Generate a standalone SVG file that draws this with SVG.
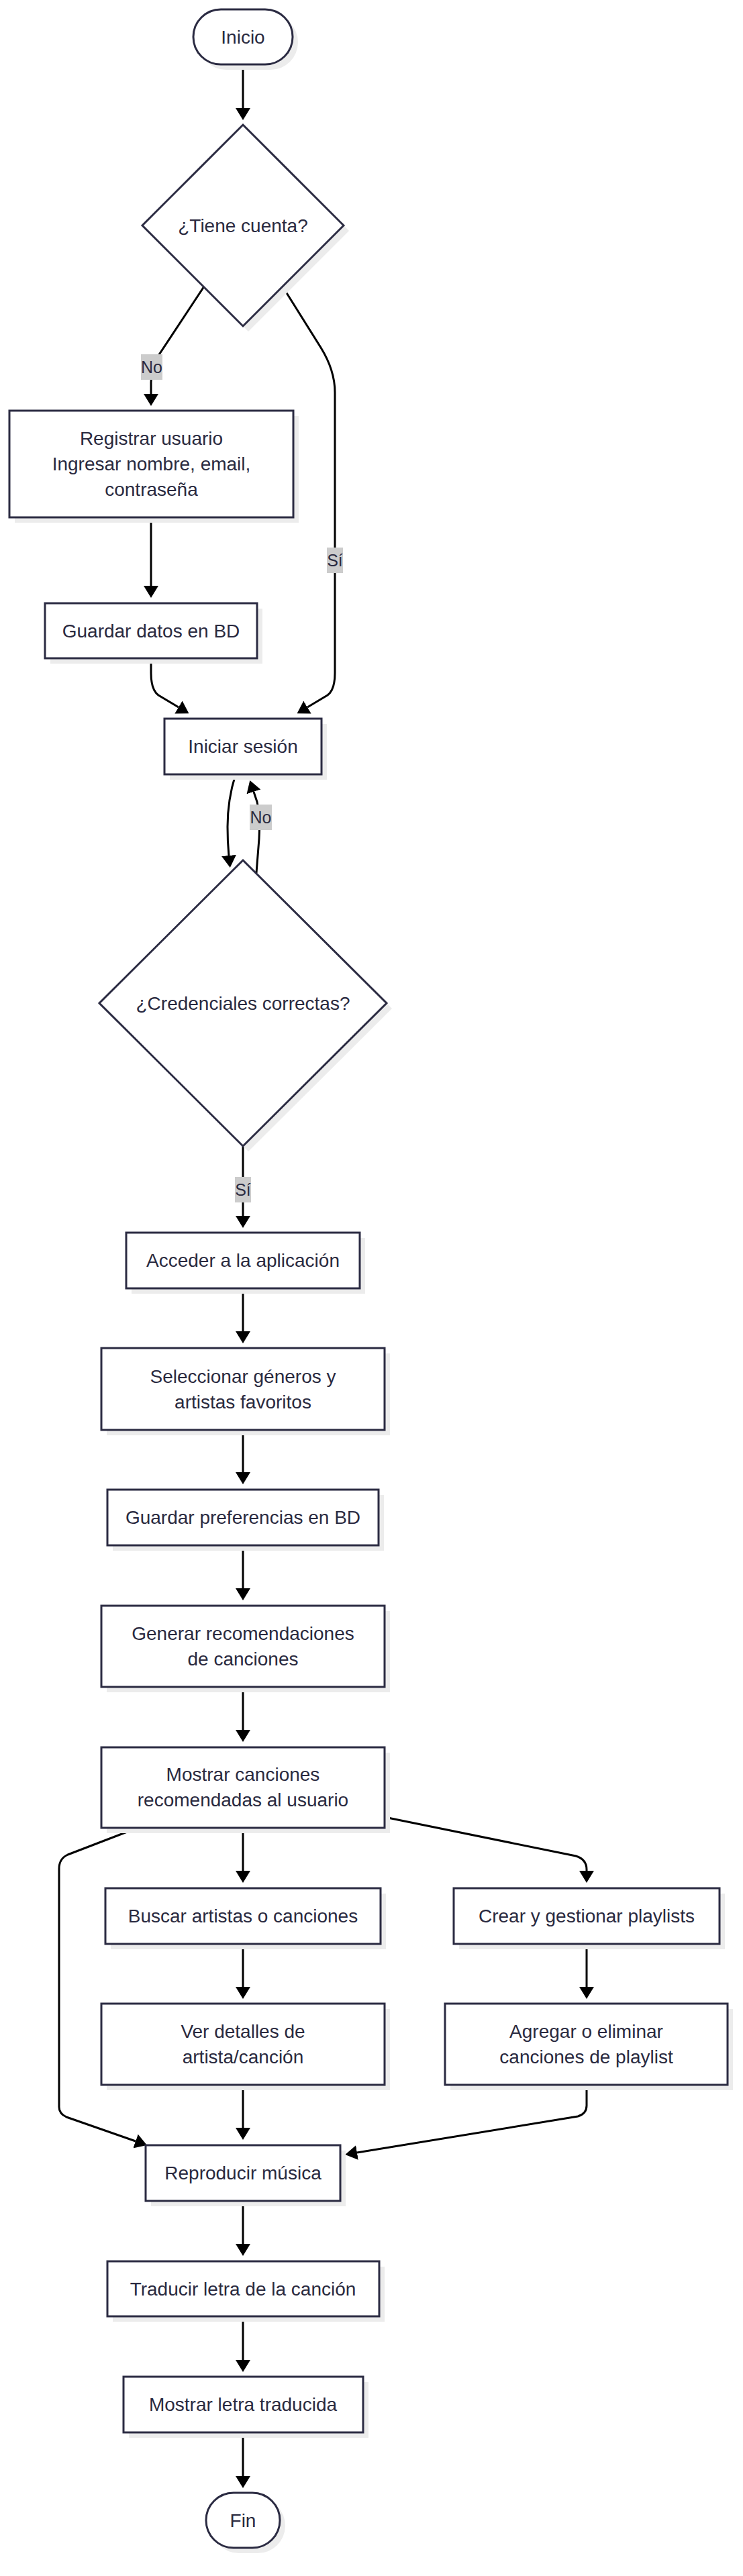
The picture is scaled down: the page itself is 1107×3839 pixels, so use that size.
<svg xmlns="http://www.w3.org/2000/svg" width="1107" height="3839" viewBox="0 0 1107 3839">
<style>
.n{fill:#ffffff;stroke:#2b2b42;stroke-width:3}
.sh{fill:#ececec;stroke:none}
.e{fill:none;stroke:#000000;stroke-width:3}
.t{font-family:"Liberation Sans",Arial,sans-serif;font-size:28px;fill:#2a2a40;text-anchor:middle;dominant-baseline:central}
.lb{fill:#cccccc;stroke:none}
.lt{font-family:"Liberation Sans",Arial,sans-serif;font-size:25px;fill:#2a2a40;text-anchor:middle;dominant-baseline:central}
</style>
<defs>
<marker id="ah" viewBox="0 0 18 22" refX="0" refY="11" markerWidth="18" markerHeight="22" markerUnits="userSpaceOnUse" orient="auto" preserveAspectRatio="none">
<path d="M0,0 L18,11 L0,22 z" fill="#000000"/>
</marker>
</defs>
<rect x="0" y="0" width="1107" height="3839" fill="#ffffff"/>

<g id="connectors">
<path class="e" marker-end="url(#ah)" d="M362,96 L362,161"/>
<path class="e" marker-end="url(#ah)" d="M304,427 L236,530 Q225,548 225,570 L225,587"/>
<path class="e" marker-end="url(#ah)" d="M421,427 L478,518 Q499,552 499,585 L499,1003 Q499,1028 488,1036 L458,1054"/>
<path class="e" marker-end="url(#ah)" d="M225,771 L225,873"/>
<path class="e" marker-end="url(#ah)" d="M225,981 L225,1003 Q225,1028 236,1036 L266,1054"/>
<path class="e" marker-end="url(#ah)" d="M351,1154 Q339,1192 339,1232 Q339,1255 341,1275"/>
<path class="e" marker-end="url(#ah)" d="M382,1301 L386,1250 Q388,1215 383,1195 L378,1180"/>
<path class="e" marker-end="url(#ah)" d="M362,1708 L362,1812"/>
<path class="e" marker-end="url(#ah)" d="M362,1920 L362,1984"/>
<path class="e" marker-end="url(#ah)" d="M362,2131 L362,2194"/>
<path class="e" marker-end="url(#ah)" d="M362,2303 L362,2367"/>
<path class="e" marker-end="url(#ah)" d="M362,2514 L362,2578"/>
<path class="e" marker-end="url(#ah)" d="M362,2724 L362,2788"/>
<path class="e" marker-end="url(#ah)" d="M573,2708 L858,2766 Q874,2771 874,2786 L874,2788"/>
<path class="e" marker-end="url(#ah)" d="M205,2724 L101,2764 Q88,2770 88,2785 L88,3140 Q88,3150 99,3155 L202,3191"/>
<path class="e" marker-end="url(#ah)" d="M362,2897 L362,2961"/>
<path class="e" marker-end="url(#ah)" d="M874,2897 L874,2961"/>
<path class="e" marker-end="url(#ah)" d="M362,3107 L362,3171"/>
<path class="e" marker-end="url(#ah)" d="M874,3107 L874,3138 Q874,3150 861,3154 L532,3208"/>
<path class="e" marker-end="url(#ah)" d="M362,3280 L362,3344"/>
<path class="e" marker-end="url(#ah)" d="M362,3452 L362,3517"/>
<path class="e" marker-end="url(#ah)" d="M362,3625 L362,3690"/>
<g id="edge-labels">
<rect class="lb" x="210" y="528" width="32" height="38"/>
<text class="lt" x="226" y="547">No</text>
<rect class="lb" x="487" y="816" width="24" height="38"/>
<text class="lt" x="499" y="835">Sí</text>
<rect class="lb" x="372" y="1199" width="33" height="38"/>
<text class="lt" x="388.5" y="1218">No</text>
<rect class="lb" x="350" y="1754" width="24" height="38"/>
<text class="lt" x="362" y="1773">Sí</text>
</g>
</g>

<g id="inicio">
<rect class="sh" x="296" y="22" width="148" height="82" rx="41"/>
<rect class="n" x="288" y="14" width="148" height="82" rx="41"/>
<text class="t" x="362" y="55">Inicio</text>
</g>
<g id="tiene-cuenta">
<polygon class="sh" points="370,194 520,344 370,494 220,344"/>
<polygon class="n" points="362,186 512,336 362,486 212,336"/>
<text class="t" x="362" y="336">¿Tiene cuenta?</text>
</g>
<g id="registrar">
<rect class="sh" x="22" y="620" width="423" height="159"/>
<rect class="n" x="14" y="612" width="423" height="159"/>
<text class="t" x="225.5" y="653">Registrar usuario</text>
<text class="t" x="225.5" y="691">Ingresar nombre, email,</text>
<text class="t" x="225.5" y="729">contraseña</text>
</g>
<g id="guardar-datos">
<rect class="sh" x="75" y="907" width="316" height="82"/>
<rect class="n" x="67" y="899" width="316" height="82"/>
<text class="t" x="225" y="940">Guardar datos en BD</text>
</g>
<g id="iniciar-sesion">
<rect class="sh" x="253" y="1079" width="234" height="83"/>
<rect class="n" x="245" y="1071" width="234" height="83"/>
<text class="t" x="362" y="1112">Iniciar sesión</text>
</g>
<g id="credenciales">
<polygon class="sh" points="370,1290 584,1503 370,1716 156,1503"/>
<polygon class="n" points="362,1282 576,1495 362,1708 148,1495"/>
<text class="t" x="362" y="1495">¿Credenciales correctas?</text>
</g>
<g id="acceder">
<rect class="sh" x="196" y="1845" width="348" height="83"/>
<rect class="n" x="188" y="1837" width="348" height="83"/>
<text class="t" x="362" y="1878">Acceder a la aplicación</text>
</g>
<g id="seleccionar">
<rect class="sh" x="159" y="2017" width="422" height="122"/>
<rect class="n" x="151" y="2009" width="422" height="122"/>
<text class="t" x="362" y="2051">Seleccionar géneros y</text>
<text class="t" x="362" y="2089">artistas favoritos</text>
</g>
<g id="guardar-preferencias">
<rect class="sh" x="168" y="2228" width="404" height="83"/>
<rect class="n" x="160" y="2220" width="404" height="83"/>
<text class="t" x="362" y="2261">Guardar preferencias en BD</text>
</g>
<g id="generar">
<rect class="sh" x="159" y="2401" width="422" height="121"/>
<rect class="n" x="151" y="2393" width="422" height="121"/>
<text class="t" x="362" y="2434">Generar recomendaciones</text>
<text class="t" x="362" y="2472">de canciones</text>
</g>
<g id="mostrar-canciones">
<rect class="sh" x="159" y="2612" width="422" height="120"/>
<rect class="n" x="151" y="2604" width="422" height="120"/>
<text class="t" x="362" y="2644">Mostrar canciones</text>
<text class="t" x="362" y="2682">recomendadas al usuario</text>
</g>
<g id="buscar">
<rect class="sh" x="165" y="2822" width="410" height="83"/>
<rect class="n" x="157" y="2814" width="410" height="83"/>
<text class="t" x="362" y="2855">Buscar artistas o canciones</text>
</g>
<g id="crear-playlists">
<rect class="sh" x="684" y="2822" width="396" height="83"/>
<rect class="n" x="676" y="2814" width="396" height="83"/>
<text class="t" x="874" y="2855">Crear y gestionar playlists</text>
</g>
<g id="ver-detalles">
<rect class="sh" x="159" y="2994" width="422" height="121"/>
<rect class="n" x="151" y="2986" width="422" height="121"/>
<text class="t" x="362" y="3027">Ver detalles de</text>
<text class="t" x="362" y="3065">artista/canción</text>
</g>
<g id="agregar-eliminar">
<rect class="sh" x="671" y="2994" width="421" height="121"/>
<rect class="n" x="663" y="2986" width="421" height="121"/>
<text class="t" x="873.5" y="3027">Agregar o eliminar</text>
<text class="t" x="873.5" y="3065">canciones de playlist</text>
</g>
<g id="reproducir">
<rect class="sh" x="225" y="3205" width="290" height="83"/>
<rect class="n" x="217" y="3197" width="290" height="83"/>
<text class="t" x="362" y="3238">Reproducir música</text>
</g>
<g id="traducir">
<rect class="sh" x="168" y="3378" width="405" height="82"/>
<rect class="n" x="160" y="3370" width="405" height="82"/>
<text class="t" x="362" y="3411">Traducir letra de la canción</text>
</g>
<g id="mostrar-letra">
<rect class="sh" x="192" y="3550" width="357" height="83"/>
<rect class="n" x="184" y="3542" width="357" height="83"/>
<text class="t" x="362" y="3583">Mostrar letra traducida</text>
</g>
<g id="fin">
<rect class="sh" x="315" y="3723" width="110" height="82" rx="41"/>
<rect class="n" x="307" y="3715" width="110" height="82" rx="41"/>
<text class="t" x="362" y="3756">Fin</text>
</g>
</svg>
